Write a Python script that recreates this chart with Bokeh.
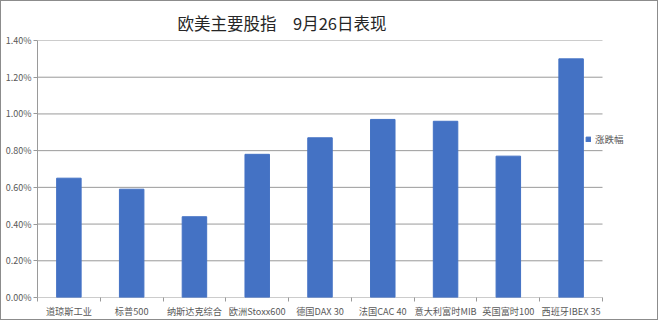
from bokeh.plotting import figure
from bokeh.models import (Range1d, FixedTicker, LinearAxis, PrintfTickFormatter,
                          Legend, LegendItem)
from bokeh.embed import file_html
from bokeh.resources import INLINE

title = "欧美主要股指　9月26日表现"
categories = ["道琼斯工业", "标普500", "纳斯达克综合", "欧洲Stoxx600", "德国DAX 30",
              "法国CAC 40", "意大利富时MIB", "英国富时100", "西班牙IBEX 35"]
changes = [0.65, 0.59, 0.44, 0.78, 0.87, 0.97, 0.96, 0.77, 1.30]  # percent
series_name = "涨跌幅"
y_ticks = [0.0, 0.2, 0.4, 0.6, 0.8, 1.0, 1.2, 1.4]

n = len(categories)
centers = [i + 0.5 for i in range(n)]
bounds = [float(i) for i in range(n + 1)]

FONT = "Noto Sans CJK SC"
GRAY = "#9a9a9a"
TXT = "#595959"
BAR = "#4472C4"

# plot area: categories span 565 px; frame extended 49 px to the right for the legend
cat_px = 565
extra_px = 49
x_end = n + extra_px * n / cat_px

p = figure(width=658, height=320, x_range=Range1d(0, x_end), y_range=Range1d(0, 1.4),
           output_backend="svg", toolbar_location=None,
           x_axis_type=None, y_axis_type=None,
           min_border_left=36, min_border_right=658 - 36 - cat_px - extra_px,
           min_border_top=39, min_border_bottom=24)
p.styles = {"border": "1px solid #8c8c8c"}
p.outline_line_color = None
p.background_fill_color = "white"
p.border_fill_color = "white"
p.xgrid.visible = False
p.ygrid.visible = False

# horizontal gridlines (and category axis baseline) across the category span only
p.segment(x0=[0] * len(y_ticks), x1=[n] * len(y_ticks), y0=y_ticks, y1=y_ticks,
          line_color=GRAY, line_width=1)

r = p.vbar(x=centers, top=changes, width=0.39, color=BAR)

# y axis
yaxis = LinearAxis(ticker=FixedTicker(ticks=y_ticks),
                   formatter=PrintfTickFormatter(format="%.2f%%"))
yaxis.axis_line_color = GRAY
yaxis.major_tick_line_color = GRAY
yaxis.major_tick_out = 4
yaxis.major_tick_in = 0
yaxis.minor_tick_line_color = None
yaxis.major_label_standoff = 2
yaxis.major_label_text_font = FONT
yaxis.major_label_text_font_size = "9px"
yaxis.major_label_text_color = TXT
p.add_layout(yaxis, "left")

# x axis (line drawn by the gridline segment at 0)
xaxis = LinearAxis(ticker=FixedTicker(ticks=centers, minor_ticks=bounds))
xaxis.major_label_overrides = {c: lab for c, lab in zip(centers, categories)}
xaxis.axis_line_color = None
xaxis.major_tick_line_color = None
xaxis.major_tick_out = 2
xaxis.major_tick_in = 0
xaxis.minor_tick_line_color = GRAY
xaxis.minor_tick_out = 4
xaxis.minor_tick_in = 0
xaxis.major_label_standoff = 2
xaxis.major_label_text_font = FONT
xaxis.major_label_text_font_size = "9.2px"
xaxis.major_label_text_color = TXT
p.add_layout(xaxis, "below")

p.title.text = title
p.title.text_font = FONT
p.title.text_font_size = "16.5px"
p.title.text_font_style = "normal"
p.title.text_color = "#262626"
p.title.align = "left"
p.title.offset = 140
p.title.standoff = 12

legend = Legend(items=[LegendItem(label=series_name, renderers=[r])],
                location=(548, 151), orientation="vertical")
legend.border_line_color = None
legend.background_fill_alpha = 0
legend.padding = 0
legend.margin = 0
legend.glyph_width = 6
legend.glyph_height = 6
legend.label_height = 10
legend.label_standoff = 4
legend.label_text_font = FONT
legend.label_text_font_size = "9.5px"
legend.label_text_color = TXT
p.add_layout(legend, "center")

open("out.html", "w").write(file_html(p, INLINE))
